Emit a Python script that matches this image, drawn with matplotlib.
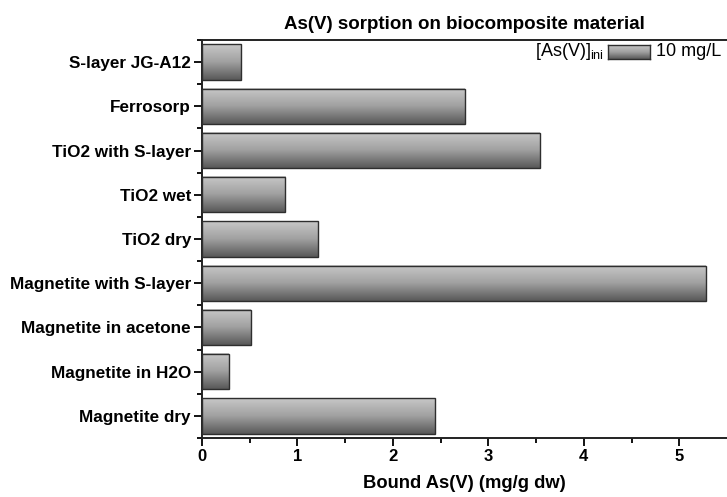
import numpy as np
import matplotlib
matplotlib.use("Agg")
import matplotlib.pyplot as plt
from matplotlib.colors import LinearSegmentedColormap

# bottom to top, as drawn on the y axis
categories = [
    "Magnetite dry",
    "Magnetite in H2O",
    "Magnetite in acetone",
    "Magnetite with S-layer",
    "TiO2 dry",
    "TiO2 wet",
    "TiO2 with S-layer",
    "Ferrosorp",
    "S-layer JG-A12",
]
bound_as = [2.44, 0.28, 0.51, 5.28, 1.21, 0.87, 3.54, 2.75, 0.41]  # mg/g dw
x_ticks = [0, 1, 2, 3, 4, 5]
legend_label = "10 mg/L"

plt.rcParams["font.family"] = ["Liberation Sans", "DejaVu Sans"]
plt.rcParams["mathtext.fontset"] = "custom"
plt.rcParams["mathtext.rm"] = "Liberation Sans"

W, H = 727, 497
fig = plt.figure(figsize=(W / 100, H / 100), dpi=100)
ax = fig.add_axes([202 / W, 1 - 438 / H, 525 / W, 398 / H])

cmap = LinearSegmentedColormap.from_list("bar", ["#585858", "#a0a0a0", "#c8c8c8"])
grad = np.linspace(0, 1, 256).reshape(-1, 1)

ypos = np.arange(len(categories))
bars = ax.barh(ypos, bound_as, height=0.8, facecolor="none",
               edgecolor="#2e2e2e", linewidth=1.0, zorder=3)
for b in bars:
    x0, y0, w, h = b.get_x(), b.get_y(), b.get_width(), b.get_height()
    ax.imshow(grad, cmap=cmap, aspect="auto", origin="lower",
              extent=(x0, x0 + w, y0, y0 + h), zorder=2, interpolation="bilinear")

ax.set_xlim(0, 5.5)
ax.set_ylim(-0.5, len(categories) - 0.5)

for s in ["left", "bottom", "top"]:
    ax.spines[s].set_linewidth(1.4)
    ax.spines[s].set_color("#222222")
ax.spines["right"].set_visible(False)

ax.set_xticks(x_ticks)
ax.set_xticklabels([str(t) for t in x_ticks], fontweight="bold", fontsize=12)
ax.set_xticks(np.arange(0.5, 5.5, 1.0), minor=True)
ax.set_yticks(ypos)
ax.set_yticklabels(categories, fontweight="bold", fontsize=12.3)
ax.set_yticks(np.arange(-0.5, len(categories), 1.0), minor=True)
ax.tick_params(which="major", direction="out", length=6, width=1.3, pad=2)
ax.tick_params(which="minor", direction="out", length=3.5, width=1.3)

ax.set_xlabel("Bound As(V) (mg/g dw)", fontweight="bold", fontsize=13.2, labelpad=8)
ax.set_title("As(V) sorption on biocomposite material", fontweight="bold",
             fontsize=13.5, pad=8)

# legend: title on the left, gradient swatch, then the label
ax.text(0.766, 0.970, r"[As(V)]$_{\mathrm{ini}}$", transform=ax.transAxes,
        ha="right", va="center", fontsize=13)
sw = ax.inset_axes([0.773, 0.953, 0.080, 0.035])
sw.imshow(grad, cmap=cmap, aspect="auto", origin="lower", interpolation="bilinear")
sw.set_xticks([])
sw.set_yticks([])
for s in sw.spines.values():
    s.set_color("#2e2e2e")
    s.set_linewidth(1.0)
ax.text(0.865, 0.970, legend_label, transform=ax.transAxes,
        ha="left", va="center", fontsize=13)

fig.savefig("out.png", dpi=100)
